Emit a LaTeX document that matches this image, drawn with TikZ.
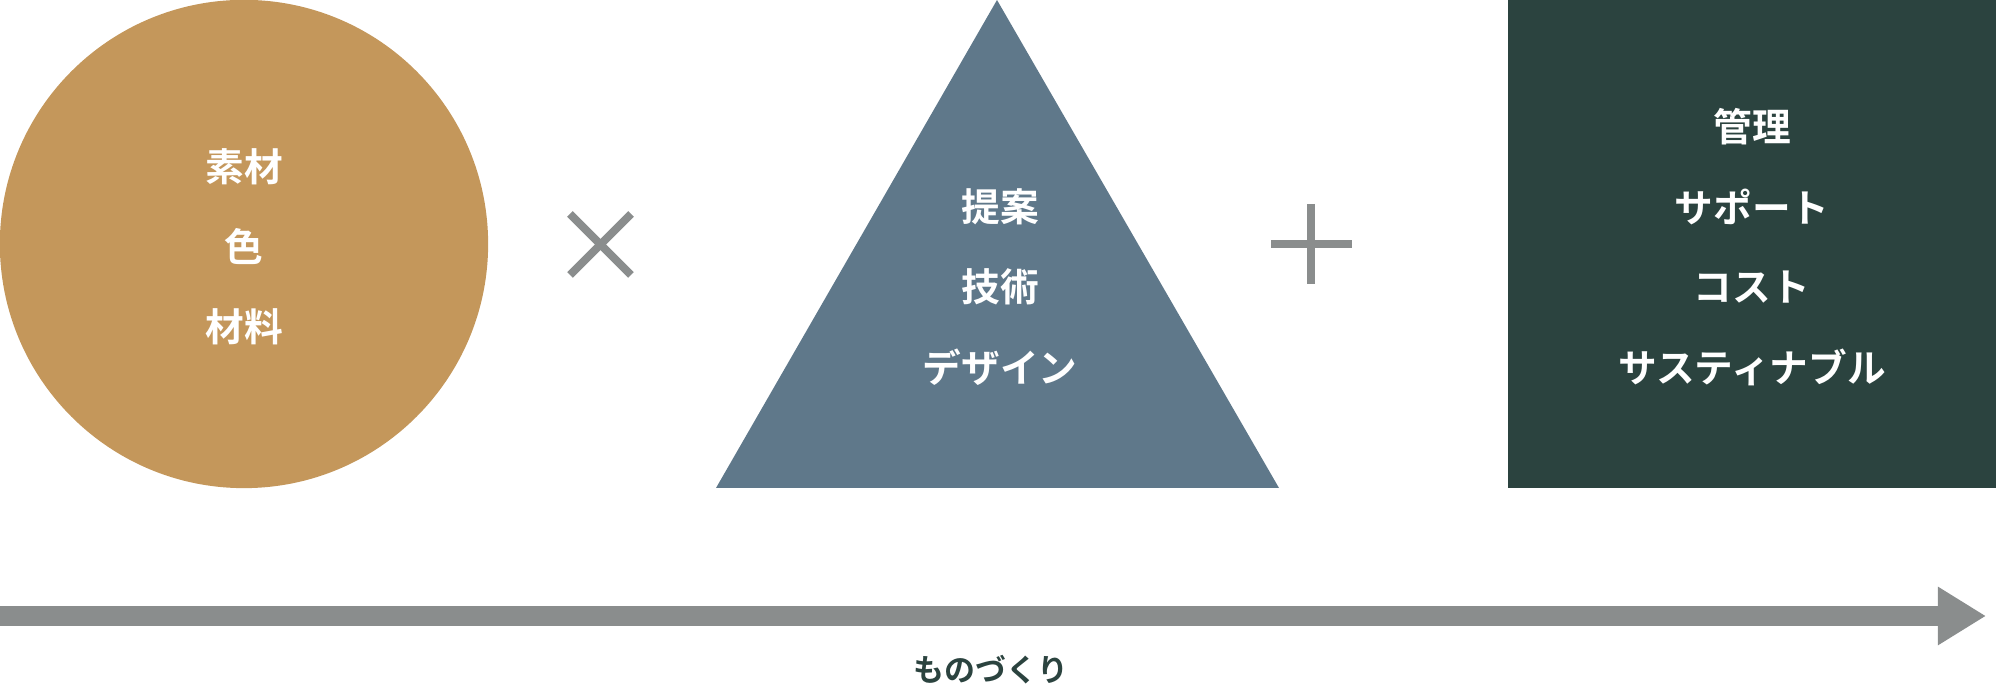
\documentclass[tikz,border=0pt]{standalone}
\usepackage{fontspec}
\usepackage{tikz}
\usetikzlibrary{arrows.meta}
\newfontfamily\jp{Noto Sans CJK JP}[BoldFont={Noto Sans CJK JP Bold}]
\newfontfamily\jpmed{Noto Sans CJK JP Medium}
\definecolor{ochre}{HTML}{C4975B}
\definecolor{slate}{HTML}{5F788A}
\definecolor{forest}{HTML}{2B433F}
\definecolor{signgray}{HTML}{8A8D8D}

\tikzset{
  lbl/.style={text=white, inner sep=0pt, font=\jp\bfseries\fontsize{11}{13}\selectfont},
  sign/.style={signgray, line width=0.08cm},
}

\begin{document}
\begin{tikzpicture}[x=0.01cm, y=-0.01cm]
\useasboundingbox (0,0) rectangle (1996,686);

%draw the three blocks
\node[circle, fill=ochre, minimum size=4.88cm, inner sep=0pt] (mat) at (244,244) {};
\fill[slate] (716,488) coordinate (tl) -- (997,0) coordinate (tt) -- (1279,488) coordinate (tr) -- cycle;
\fill[forest] (1508,0) coordinate (bl) rectangle (1996,488) coordinate (br);

%draw the labels
\foreach \t [count=\i] in {素材,色,材料}
  \node[lbl] (mat\i) at (244,{167+80*(\i-1)}) {\t};
\foreach \t [count=\i] in {提案,技術,デザイン}
  \node[lbl] (tech\i) at (1000,{207+80*(\i-1)}) {\t};
\foreach \t [count=\i] in {管理,サポート,コスト,サスティナブル}
  \node[lbl] (mng\i) at (1752,{127+80*(\i-1)}) {\t};

%draw times and plus signs
\draw[sign] (570,214) -- (631,275);
\draw[sign] (570,275) -- (631,214);
\draw[sign] (1271,244) -- (1352,244);
\draw[sign] (1311,204) -- (1311,284);

%draw the long arrow
\coordinate (start) at (0,616);
\coordinate (end) at (1986,616);
\draw[signgray, line width=0.2cm, -{Triangle[length=0.48cm, width=0.55cm]}] (start) -- (end);
\node[text=forest, inner sep=0pt, font=\jp\bfseries\fontsize{8.8}{10}\selectfont] (flow) at (991,670) {ものづくり};
\end{tikzpicture}
\end{document}
